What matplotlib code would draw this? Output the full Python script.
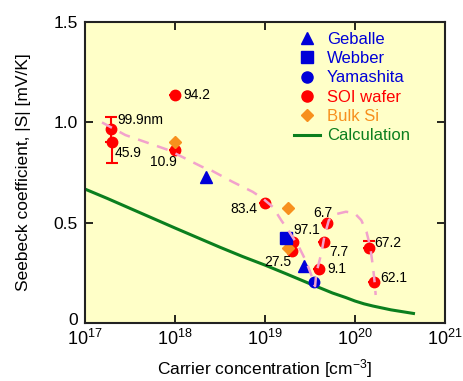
import numpy as np
import matplotlib
matplotlib.use("Agg")
import matplotlib.pyplot as plt
import matplotlib.transforms as mtrans
from matplotlib.lines import Line2D

plt.rcParams['font.family'] = ['Liberation Sans', 'DejaVu Sans']
plt.rcParams['mathtext.fontset'] = 'custom'
plt.rcParams['mathtext.rm'] = 'Liberation Sans'
plt.rcParams['mathtext.default'] = 'regular'

# data
soi_n = [1.93e17, 1.98e17, 1.0e18, 1.0e18, 1.0e19, 2.03e19, 2.0e19, 4.0e19, 4.5e19, 4.9e19, 1.42e20, 1.62e20]
soi_s = [0.967, 0.903, 1.138, 0.865, 0.600, 0.405, 0.360, 0.272, 0.405, 0.497, 0.372, 0.206]
soi_lab = ['99.9nm', '45.9', '94.2', '10.9', '83.4', '97.1', '27.5', '9.1', '7.7', '6.7', '67.2', '62.1']
soi_err_lo = [0.065, 0.107, 0, 0, 0, 0, 0, 0, 0, 0, 0, 0]
soi_err_hi = [0.058, 0.0, 0, 0, 0, 0, 0, 0, 0, 0, 0.038, 0]

geballe_n = [2.19e18, 2.7e19]
geballe_s = [0.729, 0.284]
webber_n = [1.7e19]
webber_s = [0.422]
yamashita_n = [3.55e19]
yamashita_s = [0.203]
bulk_n = [1.0e18, 1.8e19, 1.8e19]
bulk_s = [0.900, 0.576, 0.372]

calc_logn = [17.0, 17.25, 17.5, 17.75, 18.0, 18.25, 18.5, 18.75, 19.0, 19.25, 19.5, 19.75,
             19.9, 20.0, 20.1, 20.2, 20.4, 20.65]
calc_s = [0.668, 0.621, 0.572, 0.523, 0.474, 0.426, 0.378, 0.332, 0.289, 0.243, 0.196, 0.150,
          0.127, 0.110, 0.096, 0.085, 0.066, 0.048]

guide_logn = [17.19, 17.45, 17.93, 18.30, 18.40, 18.64, 18.865, 18.976, 19.087, 19.18, 19.27,
              19.377, 19.46, 19.515, 19.54, 19.557, 19.57, 19.626, 19.663, 19.71, 19.79, 19.90,
              19.997, 20.07, 20.128, 20.17, 20.20, 20.22, 20.23]
guide_s = [1.0, 0.937, 0.862, 0.779, 0.762, 0.704, 0.654, 0.621, 0.579, 0.513, 0.455,
           0.380, 0.305, 0.239, 0.198, 0.184, 0.248, 0.347, 0.438, 0.513, 0.543, 0.555,
           0.547, 0.513, 0.455, 0.380, 0.280, 0.198, 0.140]

# label placement (offset points, alignment)
lab_pos = {'99.9nm': (4.8, 6.5, 'left'), '45.9': (1.9, -7.9, 'left'), '94.2': (5.8, 0, 'left'),
           '10.9': (1.0, -8.9, 'right'), '83.4': (-5.3, -4.8, 'right'), '97.1': (0.7, 8.4, 'left'),
           '27.5': (-0.7, -7.9, 'right'), '9.1': (5.8, -0.7, 'left'), '7.7': (3.8, -7.2, 'left'),
           '6.7': (-2.7, 7.6, 'center'), '67.2': (4.3, 3.6, 'left'), '62.1': (4.6, 2.4, 'left')}

red = '#FF0000'
blue = '#0000D8'
orange = '#F7901E'
green = '#0B7F1E'
pink = '#F2A2CC'

fig = plt.figure(figsize=(4.64, 3.81), dpi=100)
ax = fig.add_axes([0.183, 0.152, 0.776, 0.790])
ax.set_facecolor('#FFFFC8')

ax.plot(10 ** np.array(calc_logn), calc_s, color=green, lw=2.2, zorder=2)
ax.errorbar(soi_n, soi_s, yerr=[soi_err_lo, soi_err_hi], fmt='o', color=red, ms=7.5,
            capsize=4.5, elinewidth=1.5, capthick=1.5, zorder=3)
ax.plot(bulk_n, bulk_s, 'D', color=orange, ms=6.5, zorder=4)
ax.plot(geballe_n, geballe_s, '^', color=blue, ms=8, zorder=5)
ax.plot(webber_n, webber_s, 's', color=blue, ms=8, zorder=5)
ax.plot(yamashita_n, yamashita_s, 'o', color=blue, ms=7.5, zorder=5)
ax.plot(10 ** np.array(guide_logn), guide_s, color=pink, lw=1.8, dashes=(4.5, 3.5), zorder=6)

for n, s, lab in zip(soi_n, soi_s, soi_lab):
    dx, dy, ha = lab_pos[lab]
    ax.annotate(lab, (n, s), xytext=(dx, dy), textcoords='offset points',
                ha=ha, va='center', fontsize=10, zorder=7)

ax.set_xscale('log')
ax.set_xlim(1e17, 1e21)
ax.set_ylim(0, 1.5)
ax.set_xticks([1e17, 1e18, 1e19, 1e20, 1e21])
ax.set_xticklabels([r'$10^{%d}$' % k for k in range(17, 22)])
ax.xaxis.set_minor_locator(matplotlib.ticker.NullLocator())
ax.set_yticks([0, 0.5, 1.0, 1.5])
ax.set_yticklabels(['0', '0.5', '1.0', '1.5'])
ax.tick_params(which='both', direction='in', top=True, right=True, length=6, width=1.2,
               labelsize=12.5, pad=5)
ax.tick_params(axis='x', labelsize=13, pad=4)
for sp in ax.spines.values():
    sp.set_linewidth(1.5)
    sp.set_color('#222222')

# nudge the "0" label up a little, as in the original
zero_lab = ax.get_yticklabels()[0]
zero_lab.set_transform(zero_lab.get_transform() + mtrans.ScaledTranslation(0, 3 / 72, fig.dpi_scale_trans))

ax.set_xlabel(r'Carrier concentration [cm$^{-3}$]', fontsize=12.5, labelpad=6)
ax.set_ylabel('Seebeck coefficient, |S| [mV/K]', fontsize=12.5, labelpad=16)

handles = [
    Line2D([], [], ls='', marker='^', color=blue, ms=8),
    Line2D([], [], ls='', marker='s', color=blue, ms=8),
    Line2D([], [], ls='', marker='o', color=blue, ms=8),
    Line2D([], [], ls='', marker='o', color=red, ms=8),
    Line2D([], [], ls='', marker='D', color=orange, ms=6.5),
    Line2D([], [], color=green, lw=2.2),
]
names = ['Geballe', 'Webber', 'Yamashita', 'SOI wafer', 'Bulk Si', 'Calculation']
leg = ax.legend(handles, names, loc='upper left', bbox_to_anchor=(0.58, 0.968), frameon=False,
                fontsize=12, borderpad=0, borderaxespad=0, handlelength=1.55,
                handletextpad=0.45, labelspacing=0.26)
for t, c in zip(leg.get_texts(), [blue, blue, blue, red, orange, green]):
    t.set_color(c)

fig.savefig('out.png', dpi=100)
